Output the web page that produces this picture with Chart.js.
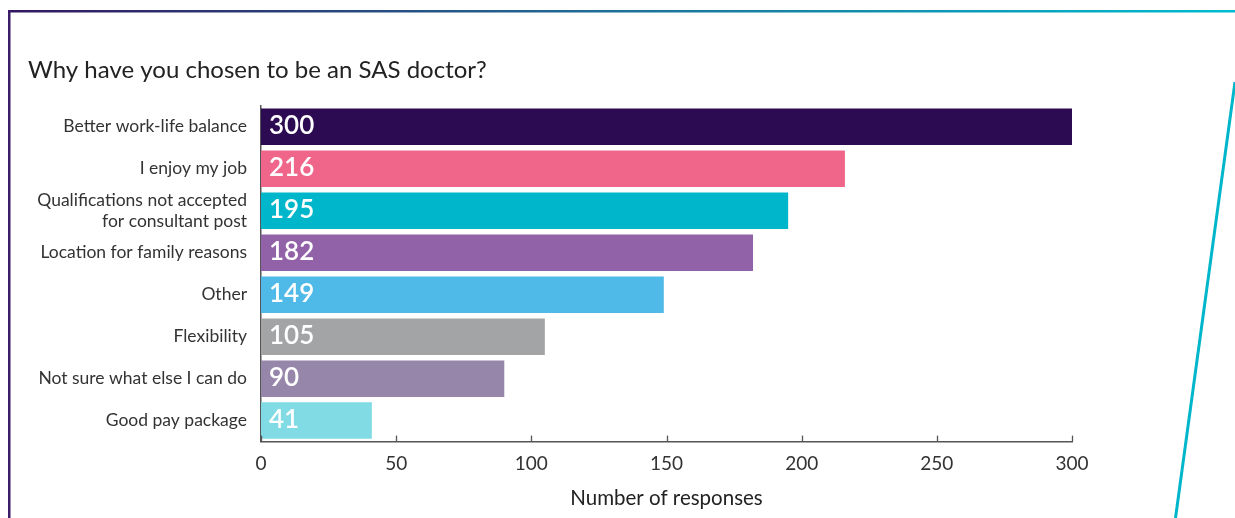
<!DOCTYPE html>
<html>
<head>
<meta charset="utf-8">
<script src="https://cdn.jsdelivr.net/npm/chart.js@4.4.1/dist/chart.umd.min.js"></script>
<style>
  html, body { margin: 0; padding: 0; background: #fff; }
  #wrap { width: 1235px; height: 518px; position: relative; }
</style>
</head>
<body>
<div id="wrap"><canvas id="chart"></canvas></div>
<script>
const reasons = [
  'Better work-life balance',
  'I enjoy my job',
  ['Qualifications not accepted', 'for consultant post'],
  'Location for family reasons',
  'Other',
  'Flexibility',
  'Not sure what else I can do',
  'Good pay package'
];
const responses = [300, 216, 195, 182, 149, 105, 90, 41];
const barColours = ['#2c0b52', '#f0668a', '#00b6ca', '#9262a8', '#4fb9e8', '#a3a4a6', '#9686a9', '#80dbe4'];
const xTicks = [0, 50, 100, 150, 200, 250, 300];

// frame lines round the panel
const framePlugin = {
  id: 'frame',
  beforeDraw(chart) {
    const ctx = chart.ctx;
    ctx.save();
    const g = ctx.createLinearGradient(0, 0, 1235, 0);
    g.addColorStop(0, '#321561');
    g.addColorStop(0.5, '#1f6f98');
    g.addColorStop(1, '#00bcd0');
    ctx.fillStyle = g;
    ctx.fillRect(8, 10, 1227, 2.5);
    ctx.fillStyle = '#3b1d6b';
    ctx.fillRect(8, 10, 2.5, 508);
    ctx.strokeStyle = '#00b6ca';
    ctx.lineWidth = 3;
    ctx.beginPath();
    ctx.moveTo(1235, 82);
    ctx.lineTo(1175.5, 518);
    ctx.stroke();
    ctx.restore();
  }
};

// ticks pointing up from the x axis, and value labels inside bars
const extrasPlugin = {
  id: 'extras',
  afterDatasetsDraw(chart) {
    const ctx = chart.ctx;
    const x = chart.scales.x;
    const area = chart.chartArea;
    ctx.save();
    ctx.strokeStyle = '#555';
    ctx.lineWidth = 1.3;
    x.ticks.forEach(t => {
      const px = Math.round(x.getPixelForValue(t.value)) + 0.5;
      ctx.beginPath();
      ctx.moveTo(px, area.bottom);
      ctx.lineTo(px, area.bottom - 6);
      ctx.stroke();
    });
    const meta = chart.getDatasetMeta(0);
    ctx.fillStyle = '#fff';
    ctx.font = '600 26px Lato';
    ctx.textBaseline = 'middle';
    ctx.textAlign = 'left';
    meta.data.forEach((bar, i) => {
      ctx.fillText(String(responses[i]), bar.base + 8, bar.y - 1);
    });
    ctx.restore();
  }
};

new Chart(document.getElementById('chart'), {
  type: 'bar',
  data: {
    labels: reasons,
    datasets: [{
      data: responses,
      backgroundColor: barColours,
      barPercentage: 0.87,
      categoryPercentage: 1.0
    }]
  },
  options: {
    indexAxis: 'y',
    responsive: true,
    maintainAspectRatio: false,
    animation: false,
    layout: { padding: { left: 28, right: 163, top: 0, bottom: 7 } },
    plugins: {
      legend: { display: false },
      tooltip: { enabled: false },
      title: {
        display: true,
        text: 'Why have you chosen to be an SAS doctor?',
        align: 'start',
        color: '#222',
        font: { family: 'Lato', size: 24, weight: 'normal' },
        padding: { top: 56, bottom: 21 }
      }
    },
    scales: {
      x: {
        min: 0,
        max: 300,
        afterBuildTicks(scale) {
          scale.ticks = xTicks.map(v => ({ value: v }));
        },
        grid: { display: false },
        border: { display: true, color: '#555', width: 1.5 },
        ticks: {
          color: '#333',
          padding: 3,
          font: { family: 'Lato', size: 19 }
        },
        title: {
          display: true,
          text: 'Number of responses',
          color: '#222',
          font: { family: 'Lato', size: 20.5 },
          padding: { top: 8, bottom: 0 }
        }
      },
      y: {
        afterFit(scale) { scale.width = 233; },
        grid: { display: false },
        border: { display: true, color: '#555', width: 1.5 },
        ticks: {
          autoSkip: false,
          color: '#333',
          padding: 6,
          font: { family: 'Lato', size: 17.5, lineHeight: 1.2 }
        }
      }
    }
  },
  plugins: [framePlugin, extrasPlugin]
});
</script>
</body>
</html>
